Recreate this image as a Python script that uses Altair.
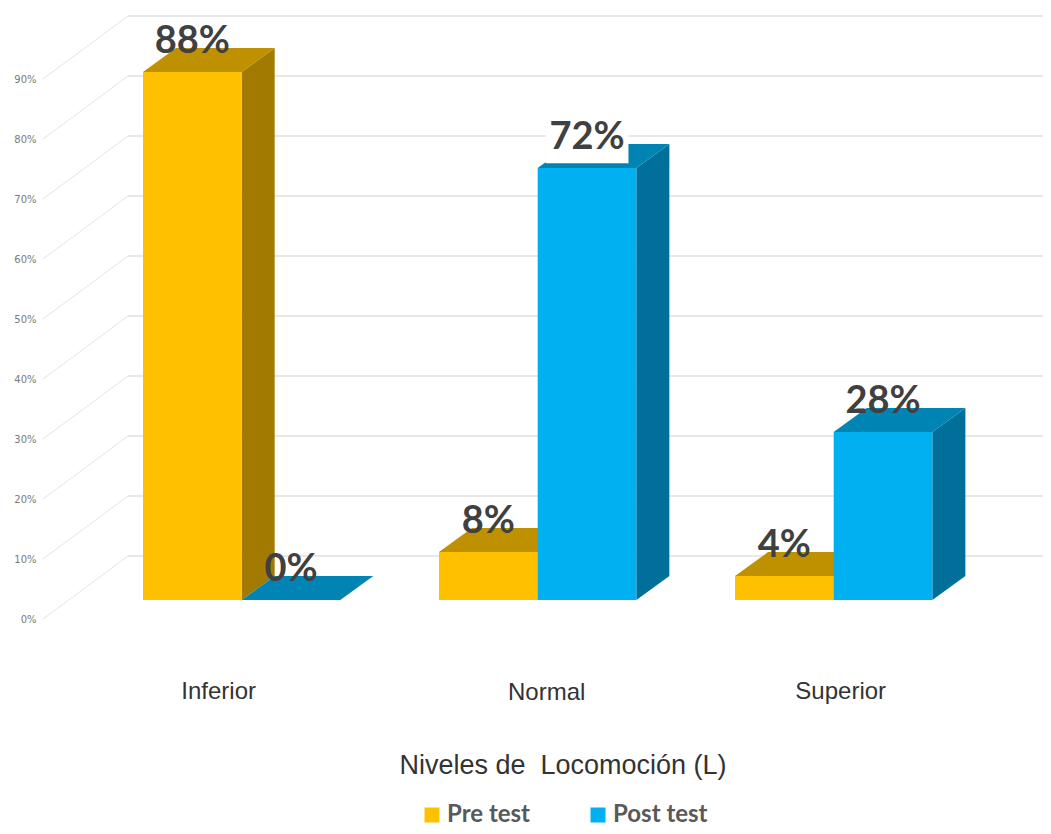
import altair as alt
import pandas as pd

categories = ["Inferior", "Normal", "Superior"]
series = ["Pre test", "Post test"]
pre_values = [88, 8, 4]
post_values = [0, 72, 28]
tick_values = [0, 10, 20, 30, 40, 50, 60, 70, 80, 90]

front_colors = ["#FFC000", "#00B0F0"]
top_colors = ["#BF9000", "#0084B4"]
side_colors = ["#A37A00", "#00709B"]

# Projection of the pseudo-3D box, in x = bar widths, y = percentage points
BAR_W = 98.67
X_DOM = [(8 - 143) / BAR_W, (1043 - 143) / BAR_W]
Y_DOM = [(619 - 826) / 6, (619 - 8) / 6]
BASE = 19 / 6
DX, DY = 33 / BAR_W, 4.0
WALL_X0, WALL_DX, WALL_DY = -100 / BAR_W, 85 / BAR_W, 10.5
label_nudge = [-0.233, 0.091, 0.071]

x_scale = alt.Scale(domain=X_DOM, nice=False, zero=False)
y_scale = alt.Scale(domain=Y_DOM, nice=False, zero=False)
y_axis = alt.Axis(
    values=tick_values, labelExpr="datum.value + '%'", domain=False, ticks=False, grid=False,
    title=None, offset=-28, labelPadding=0, labelFont="DejaVu Sans", labelFontSize=10,
    labelColor="#7a7a7a")
X = lambda f: alt.X(f, type="quantitative", scale=x_scale, axis=None)
Y = lambda f: alt.Y(f, type="quantitative", scale=y_scale, axis=y_axis, stack=None)

rows = []
for j, (name, vals) in enumerate(zip(series, [pre_values, post_values])):
    for i, group in enumerate(categories):
        left = 3 * i + j
        rows.append(dict(group=group, series=name, value=vals[i], left=left, right=left + 1,
                         mid=left + 0.5, top=BASE + vals[i], base=BASE,
                         label=f"{vals[i]}%"))
bars = pd.DataFrame(rows)

ticks = pd.DataFrame({"v": tick_values})
ticks["wall"] = ticks.v + WALL_DY
ticks["x0"] = WALL_X0
ticks["x1"] = WALL_X0 + WALL_DX
ticks["xe"] = X_DOM[1]

layers = []
# Wall grid
layers.append(alt.Chart(ticks).mark_rule(color="#e8e8e8", strokeWidth=2).encode(
    x=X("x1"), x2="xe", y=Y("wall")))
layers.append(alt.Chart(ticks).mark_rule(color="#e4e4e4", strokeWidth=1).encode(
    x=X("x0"), x2="x1", y=Y("v"), y2="wall"))

for j, name in enumerate(series):
    d = bars[bars.series == name]
    # side faces
    side = []
    for r in d.to_dict("records"):
        side.append(dict(id=r["group"], x=r["right"], y=r["top"], y2=r["base"]))
        side.append(dict(id=r["group"], x=r["right"] + DX, y=r["top"] + DY, y2=r["base"] + DY))
    layers.append(alt.Chart(pd.DataFrame(side)).mark_area(color=side_colors[j]).encode(
        x=X("x"), y=Y("y"), y2="y2", detail="id:N"))
    # top faces
    top = []
    for r in d.to_dict("records"):
        top.append(dict(id=r["group"], x=r["left"], x2=r["right"], y=r["top"]))
        top.append(dict(id=r["group"], x=r["left"] + DX, x2=r["right"] + DX, y=r["top"] + DY))
    layers.append(alt.Chart(pd.DataFrame(top)).mark_area(color=top_colors[j], orient="horizontal").encode(
        x=X("x"), x2="x2", y=Y("y"), detail="id:N"))
    # front faces
    layers.append(alt.Chart(d).mark_rect().encode(
        x=X("left"), x2="right", y=Y("top"), y2="base",
        color=alt.Color("series:N", scale=alt.Scale(domain=series, range=front_colors),
                        legend=alt.Legend(
                            orient="none", legendX=412, legendY=795, direction="horizontal",
                            title=None, symbolType="square", symbolSize=225, symbolStrokeWidth=0,
                            labelFont="Lato", labelFontSize=24, labelFontWeight="bold",
                            labelColor="#595959", labelOffset=3, columnPadding=55,
                            labelLimit=200))))

# white box behind the 72% label
box = bars[bars.label == "72%"].assign(bx0=lambda t: t.mid - 0.42, bx1=lambda t: t.mid + 0.42,
                                       by0=lambda t: t.top + 0.8, by1=lambda t: t.top + 8)
layers.append(alt.Chart(box).mark_rect(color="white").encode(
    x=X("bx0"), x2="bx1", y=Y("by0"), y2="by1"))

# data labels
layers.append(alt.Chart(bars).mark_text(font="Lato", fontSize=38, fontWeight="bold", color="#404040",
                                        baseline="alphabetic", dy=-19, align="center").encode(
    x=X("mid"), y=Y("top"), text="label:N"))

# category labels
cats = pd.DataFrame({"group": categories, "x": [3 * i + 1 + n for i, n in enumerate(label_nudge)],
                     "y": [-12.17, -12.4, -12.17]})
layers.append(alt.Chart(cats).mark_text(font="Liberation Sans", fontSize=24, color="#333333",
                                        baseline="middle").encode(
    x=X("x"), y=Y("y"), text="group:N"))

# axis title
title_df = pd.DataFrame({"t": ["Niveles de\u00a0 Locomoción (L)"], "x": [(563 - 143) / BAR_W], "y": [-24.5]})
layers.append(alt.Chart(title_df).mark_text(font="Liberation Sans", fontSize=27, color="#333333",
                                            baseline="middle").encode(
    x=X("x"), y=Y("y"), text="t:N"))

chart = alt.layer(*layers).resolve_scale(color="shared").properties(
    width=1035, height=818, padding=0, autosize=alt.AutoSizeParams(type="none")
).configure_view(stroke=None)

chart.save("out.html", embed_options={"renderer": "svg", "actions": False})
